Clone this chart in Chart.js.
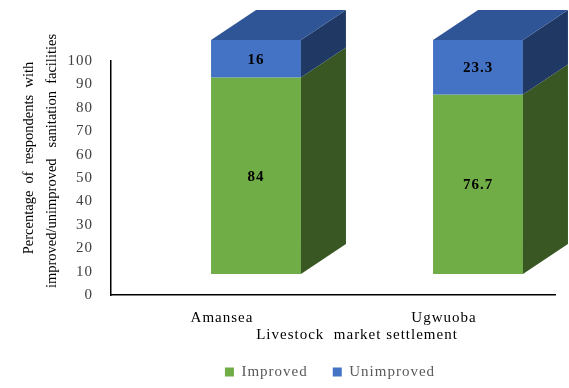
<!DOCTYPE html>
<html>
<head>
<meta charset="utf-8">
<script src="https://cdn.jsdelivr.net/npm/chart.js@4.4.1/dist/chart.umd.min.js"></script>
<style>
html,body{margin:0;padding:0;background:#fff;}
#c{display:block;}
</style>
</head>
<body>
<canvas id="c" width="569" height="388"></canvas>
<script>
const categories = ["Amansea", "Ugwuoba"];
const improved = [84, 76.7];
const unimproved = [16, 23.3];
const seriesNames = ["Improved", "Unimproved"];
const yTicks = [0, 10, 20, 30, 40, 50, 60, 70, 80, 90, 100];
const yTitleLines = ["Percentage  of  respondents  with", "improved/unimproved   sanitation  facilities"];
const xTitle = "Livestock  market settlement";

const frontColors = ["#70AD47", "#4472C4"];
const sideColors = ["#385723", "#203864"];
const topColors = ["#2F5597", "#2F5597"];
const SERIF = "'Liberation Serif', 'Times New Roman', serif";

// 3D projection settings
const SHIFT_X = 34, SHIFT_Y = -21, DEPTH_X = 45, DEPTH_Y = -30;
const AREA_BOTTOM = 295, LEGEND_CY = 372, LEGEND_CX = 330;

const spacing = {
  id: 'spacing',
  beforeLayout(chart) { chart.ctx.letterSpacing = '1px'; },
  afterLayout(chart) {
    const lg = chart.legend;
    if (!lg) return;
    const h = lg.height, w = lg.width;
    const pad = lg.options.labels.padding;
    lg.top = LEGEND_CY - 7.5 - pad;
    lg.bottom = lg.top + h;
    lg.left = LEGEND_CX - w / 2;
    lg.right = LEGEND_CX + w / 2;
  },
  beforeDraw(chart) { chart.ctx.letterSpacing = '1px'; }
};

const bars3d = {
  id: 'bars3d',
  beforeDatasetsDraw(chart) {
    const ctx = chart.ctx;
    const nCat = categories.length;
    const nDs = chart.data.datasets.length;
    for (let i = 0; i < nCat; i++) {
      for (let d = 0; d < nDs; d++) {
        const el = chart.getDatasetMeta(d).data[i];
        const left = el.x - el.width / 2 + SHIFT_X;
        const right = el.x + el.width / 2 + SHIFT_X;
        const top = Math.min(el.y, el.base) + SHIFT_Y;
        const bottom = Math.max(el.y, el.base) + SHIFT_Y;
        ctx.save();
        ctx.fillStyle = frontColors[d];
        ctx.fillRect(left, top, right - left, bottom - top);
        ctx.fillStyle = sideColors[d];
        ctx.beginPath();
        ctx.moveTo(right, bottom);
        ctx.lineTo(right, top);
        ctx.lineTo(right + DEPTH_X, top + DEPTH_Y);
        ctx.lineTo(right + DEPTH_X, bottom + DEPTH_Y);
        ctx.closePath();
        ctx.fill();
        if (d === nDs - 1) {
          ctx.fillStyle = topColors[d];
          ctx.beginPath();
          ctx.moveTo(left, top);
          ctx.lineTo(right, top);
          ctx.lineTo(right + DEPTH_X, top + DEPTH_Y);
          ctx.lineTo(left + DEPTH_X, top + DEPTH_Y);
          ctx.closePath();
          ctx.fill();
        }
        const v = chart.data.datasets[d].data[i];
        ctx.fillStyle = '#000';
        ctx.font = "bold 15px " + SERIF;
        ctx.textAlign = 'center';
        ctx.textBaseline = 'middle';
        ctx.fillText(String(v), (left + right) / 2, (top + bottom) / 2 + 1);
        ctx.restore();
      }
    }
    return false;
  },
  afterDraw(chart) {
    const ctx = chart.ctx;
    ctx.save();
    ctx.fillStyle = '#000';
    ctx.letterSpacing = '0px';
    ctx.font = "14.5px " + SERIF;
    ctx.textAlign = 'center';
    ctx.textBaseline = 'middle';
    ctx.save();
    ctx.translate(29, 158);
    ctx.rotate(-Math.PI / 2);
    ctx.fillText(yTitleLines[0], 0, 0);
    ctx.restore();
    ctx.save();
    ctx.translate(52, 161);
    ctx.rotate(-Math.PI / 2);
    ctx.fillText(yTitleLines[1], 0, 0);
    ctx.restore();
    ctx.letterSpacing = '1px';
    ctx.font = "15px " + SERIF;
    ctx.fillText(xTitle, 357, 335);
    ctx.restore();
  }
};

new Chart(document.getElementById('c'), {
  type: 'bar',
  data: {
    labels: categories,
    datasets: [
      { label: seriesNames[0], data: improved, backgroundColor: frontColors[0], borderWidth: 0 },
      { label: seriesNames[1], data: unimproved, backgroundColor: frontColors[1], borderWidth: 0 }
    ]
  },
  options: {
    responsive: false,
    animation: false,
    events: [],
    barPercentage: 0.405,
    categoryPercentage: 1,
    layout: { padding: { left: 0, right: 14, top: 61, bottom: 0 } },
    scales: {
      x: {
        stacked: true,
        grid: { display: false, drawTicks: false },
        border: { display: true, color: '#000', width: 1.5 },
        ticks: { padding: 14, color: '#000', font: { family: SERIF, size: 15 } },
        afterFit(scale) {
          const lh = scale.chart.legend ? scale.chart.legend.height : 0;
          scale.height = scale.chart.height - AREA_BOTTOM - lh;
        }
      },
      y: {
        stacked: true,
        min: 0, max: 100,
        afterBuildTicks(scale) { scale.ticks = yTicks.map(v => ({ value: v })); },
        grid: { display: false, drawTicks: false },
        border: { display: true, color: '#000', width: 1.5 },
        ticks: { padding: 18, color: '#404040', font: { family: SERIF, size: 15 } },
        afterFit(scale) { scale.width = 111; }
      }
    },
    plugins: {
      legend: {
        position: 'bottom',
        labels: {
          boxWidth: 9, boxHeight: 9, padding: 25,
          color: '#595959',
          font: { family: SERIF, size: 15 }
        }
      },
      tooltip: { enabled: false }
    }
  },
  plugins: [spacing, bars3d]
});
</script>
</body>
</html>
